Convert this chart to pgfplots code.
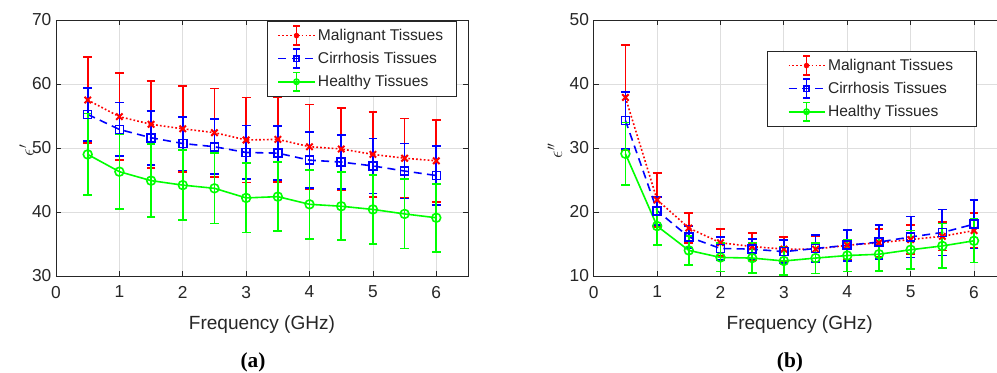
\documentclass[border=0pt]{standalone}
\usepackage{fontspec}
\setmainfont{Liberation Sans}
\newfontfamily\capfont{Liberation Serif}
\usepackage{pgfplots}
\pgfplotsset{compat=1.18}
\definecolor{axgray}{HTML}{262626}
\definecolor{gridgray}{HTML}{DEDEDE}
\definecolor{mred}{rgb}{1,0,0}
\definecolor{mblue}{rgb}{0,0,1}
\definecolor{mgreen}{rgb}{0,1,0}

\pgfplotsset{
 mystyle/.style={
  scale only axis, width=309pt, height=192pt,
  xmin=0, xmax=6.5, xtick={0,1,2,3,4,5,6},
  grid=major, grid style={gridgray, line width=0.6pt},
  axis line style={axgray, line width=0.6pt},
  tick style={axgray, line width=0.6pt}, major tick length=4pt,
  tick label style={font=\fontsize{13}{15}\selectfont, text=axgray},
  xticklabel style={yshift=-4pt},
  /pgf/number format/assume math mode=true,
  xlabel style={font=\fontsize{14.3}{16}\selectfont, text=axgray, yshift=-6pt},
  ylabel style={font=\fontsize{14.3}{16}\selectfont, text=axgray, anchor=center},
  xlabel={Frequency (GHz)},
  legend cell align=left,
  legend style={font=\fontsize{11.7}{14}\selectfont, draw=axgray, line width=0.6pt, inner ysep=3pt, row sep=2pt, text=axgray},
  legend image code/.code={
    \draw[#1, line width=1.2pt] (0cm,0cm) -- (0.95cm,0cm);
    \draw[#1, solid, line width=1.3pt] (0.475cm,-7pt) -- (0.475cm,7pt);
    \draw[#1, solid, line width=1.3pt] (0.475cm-2.5pt,-7pt) -- (0.475cm+2.5pt,-7pt);
    \draw[#1, solid, line width=1.3pt] (0.475cm-2.5pt,7pt) -- (0.475cm+2.5pt,7pt);
    \draw[#1, solid, line width=1.2pt, mark size=2pt] plot coordinates {(0.475cm,0cm)};
  },
  every axis plot/.append style={line width=1.2pt},
  error bars/y dir=both, error bars/y explicit,
  error bars/error bar style={line width=1.3pt, solid},
  error bars/error mark options={rotate=90, mark size=3.3pt, line width=1.3pt, solid},
 },
 malig/.style={mred, dash pattern=on 1.3pt off 1.6pt, mark=x, mark size=3.4pt, mark options={solid, line width=1.5pt}},
 cirr/.style={mblue, dash pattern=on 6pt off 4pt, mark=square, mark size=3pt, mark options={solid}},
 heal/.style={mgreen, solid, mark=o, mark size=3.3pt, mark options={solid}},
}

\begin{document}
\begin{tikzpicture}
\useasboundingbox (0,0) rectangle (747.75pt,279pt);

\begin{axis}[mystyle, at={(42pt,72pt)}, anchor=south west,
  ymin=30, ymax=70, ytick={30,40,50,60,70},
  ylabel={$\epsilon'$},
  ylabel style={at={(axis description cs:-0.071,0.49)}},
  legend style={at={(0.973,0.996)}, anchor=north east, inner xsep=8pt}]
\addplot[malig] coordinates {
(0.5,57.5) +- (0,6.7)
(1,54.9) +- (0,6.8)
(1.5,53.7) +- (0,6.8)
(2,53.0) +- (0,6.7)
(2.5,52.4) +- (0,6.9)
(3,51.25) +- (0,6.65)
(3.5,51.35) +- (0,6.65)
(4,50.2) +- (0,6.6)
(4.5,49.85) +- (0,6.45)
(5,49.0) +- (0,6.6)
(5.5,48.4) +- (0,6.2)
(6,48.0) +- (0,6.4)
};
\addlegendentry{Malignant Tissues}
\addplot[cirr] coordinates {
(0.5,55.25) +- (0,4.1)
(1,52.9) +- (0,4.2)
(1.5,51.6) +- (0,4.2)
(2,50.7) +- (0,4.2)
(2.5,50.2) +- (0,4.3)
(3,49.3) +- (0,4.2)
(3.5,49.2) +- (0,4.2)
(4,48.1) +- (0,4.4)
(4.5,47.8) +- (0,4.2)
(5,47.2) +- (0,4.3)
(5.5,46.4) +- (0,4.3)
(6,45.7) +- (0,4.6)
};
\addlegendentry{Cirrhosis Tissues}
\addplot[heal] coordinates {
(0.5,49.0) +- (0,6.4)
(1,46.3) +- (0,5.8)
(1.5,44.9) +- (0,5.7)
(2,44.2) +- (0,5.5)
(2.5,43.7) +- (0,5.5)
(3,42.2) +- (0,5.4)
(3.5,42.4) +- (0,5.4)
(4,41.2) +- (0,5.4)
(4.5,40.9) +- (0,5.3)
(5,40.4) +- (0,5.4)
(5.5,39.7) +- (0,5.4)
(6,39.1) +- (0,5.3)
};
\addlegendentry{Healthy Tissues}
\end{axis}

\begin{axis}[mystyle, at={(445.3pt,72pt)}, anchor=south west,
  ymin=10, ymax=50, ytick={10,20,30,40,50},
  ylabel={$\epsilon''$},
  ylabel style={at={(axis description cs:-0.094,0.49)}},
  legend style={at={(0.930,0.879)}, anchor=north east, inner xsep=15.5pt}]
\addplot[malig] coordinates {
(0.5,37.9) +- (0,8.2)
(1,21.9) +- (0,4.2)
(1.5,17.5) +- (0,2.4)
(2,15.2) +- (0,2.1)
(2.5,14.6) +- (0,2.1)
(3,14.2) +- (0,1.9)
(3.5,14.2) +- (0,2.0)
(4,14.8) +- (0,2.3)
(4.5,15.2) +- (0,2.2)
(5,15.7) +- (0,2.3)
(5.5,16.2) +- (0,2.2)
(6,17.1) +- (0,2.7)
};
\addlegendentry{Malignant Tissues}
\addplot[cirr] coordinates {
(0.5,34.3) +- (0,4.4)
(1,20.2) +- (0,2.2)
(1.5,16.1) +- (0,1.7)
(2,14.3) +- (0,1.8)
(2.5,14.2) +- (0,1.6)
(3,13.8) +- (0,1.8)
(3.5,14.3) +- (0,2.1)
(4,14.8) +- (0,2.4)
(4.5,15.3) +- (0,2.7)
(5,16.1) +- (0,3.2)
(5.5,16.8) +- (0,3.6)
(6,18.1) +- (0,3.8)
};
\addlegendentry{Cirrhosis Tissues}
\addplot[heal] coordinates {
(0.5,29.1) +- (0,4.9)
(1,17.8) +- (0,3.0)
(1.5,14.0) +- (0,2.3)
(2,12.9) +- (0,2.2)
(2.5,12.8) +- (0,2.3)
(3,12.35) +- (0,2.2)
(3.5,12.8) +- (0,2.4)
(4,13.2) +- (0,2.5)
(4.5,13.4) +- (0,2.6)
(5,14.1) +- (0,3.0)
(5.5,14.7) +- (0,3.5)
(6,15.5) +- (0,3.4)
};
\addlegendentry{Healthy Tissues}
\end{axis}

\node[font=\capfont\bfseries\fontsize{16}{18}\selectfont] at (189.75pt,7.5pt) {(a)};
\node[font=\capfont\bfseries\fontsize{16}{18}\selectfont] at (592.5pt,7.5pt) {(b)};
\end{tikzpicture}
\end{document}
